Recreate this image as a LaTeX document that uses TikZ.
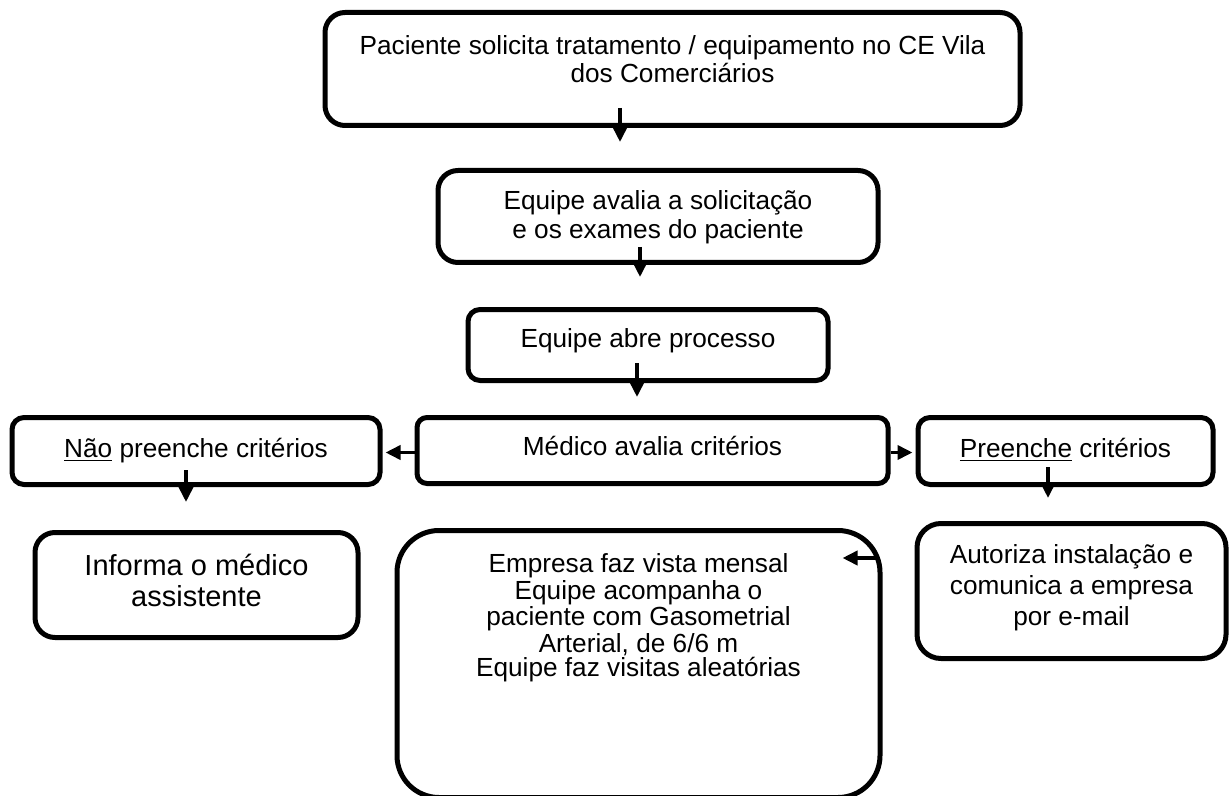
\documentclass[tikz,border=0pt]{standalone}
\usepackage{fontspec}
\setmainfont{Liberation Sans}
\usetikzlibrary{arrows.meta, positioning}

\begin{document}
\begin{tikzpicture}[
  x=0.5pt, y=-0.5pt,
  box/.style={draw, line width=2.5pt, rounded corners=10pt, align=center,
              anchor=north, inner sep=0pt,
              font=\fontsize{13.1}{14.5}\selectfont},
  arr/.style={-{Triangle[length=7.5pt,width=7pt]}, line width=1.8pt}
]
  \useasboundingbox (0,0) rectangle (1229,796);

  \node[box, minimum width=347.5pt, text height=35pt, text depth=21.5pt,
        font=\fontsize{13.1}{14}\selectfont] (pac) at (672.5,10)
    {Paciente solicita tratamento / equipamento no CE Vila\\dos Comerciários};
  \node[box, minimum width=220pt, text height=34pt, text depth=12pt] (avalia) at (658,168)
    {Equipe avalia a solicitação\\e os exames do paciente};
  \node[box, minimum width=180pt, text height=18.75pt, text depth=16.75pt,
        rounded corners=6pt] (abre) at (648,307) {Equipe abre processo};
  \node[box, minimum width=235.5pt, text height=18.75pt, text depth=14.25pt,
        rounded corners=5pt] (medico) at (652.5,415) {Médico avalia critérios};
  \node[box, minimum width=184pt, text height=19.75pt, text depth=13.75pt,
        rounded corners=6pt] (nao) at (196,415) {\underline{Não} preenche critérios};
  \node[box, minimum width=147.5pt, text height=19.75pt, text depth=13.75pt,
        rounded corners=6pt] (preenche) at (1065.5,415) {\underline{Preenche} critérios};
  \node[box, minimum width=161.5pt, text height=36.75pt, text depth=15.75pt,
        font=\fontsize{14.5}{15.5}\selectfont] (informa) at (196.5,530)
    {Informa o médico\\assistente};
  \node[box, minimum width=241.5pt, text height=72.75pt, text depth=60.75pt,
        rounded corners=21pt, font=\fontsize{13.1}{12}\selectfont] (empresa) at (638.5,528)
    {Empresa faz vista mensal\\Equipe acompanha o\\paciente com Gasometrial\\Arterial, de 6/6 m\\Equipe faz visitas aleatórias};
  \node[box, minimum width=154.5pt, text height=50.75pt, text depth=16.75pt,
        rounded corners=12pt, font=\fontsize{13.1}{15.5}\selectfont] (autoriza) at (1071.5,521)
    {Autoriza instalação e\\comunica a empresa\\por e-mail};

  % arrows
  \draw[arr] ([shift={(-52.5,-20)}]pac.south) -- ([shift={(-38,-26)}]avalia.north);
  \draw[arr] ([shift={(-18,-18)}]avalia.south) -- ([shift={(-8,-30)}]abre.north);
  \draw[arr] ([shift={(-11,-20)}]abre.south) -- ([shift={(-15.5,-18)}]medico.north);
  \draw[arr] ([shift={(0,2)}]medico.west) -- ([shift={(3,1.5)}]nao.east);
  \draw[arr] ([shift={(0,2)}]medico.east) -- ([shift={(-3,1.5)}]preenche.west);
  \draw[arr] ([shift={(-10,-17)}]nao.south) -- ([shift={(-10.5,-28)}]informa.north);
  \draw[arr] ([shift={(-17.5,-20)}]preenche.south) -- ([shift={(-23.5,-23)}]autoriza.north);
  \draw[arr] ([shift={(-7,30)}]empresa.north east) -- ([shift={(-40,30)}]empresa.north east);
\end{tikzpicture}
\end{document}
